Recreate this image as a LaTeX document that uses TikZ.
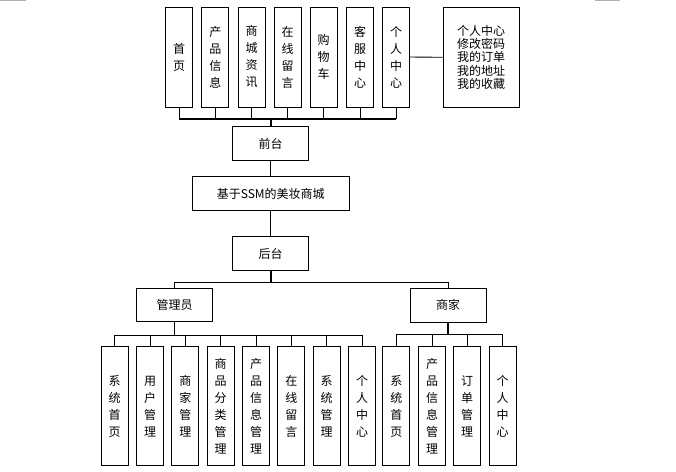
\documentclass[tikz,border=0pt]{standalone}
\usepackage{fontspec}
\newfontfamily\cjk{Noto Sans CJK SC}
\begin{document}
\begin{tikzpicture}[x=1pt,y=-1pt,
  every node/.style={font=\cjk\fontsize{12}{17}\selectfont, inner sep=0pt, align=center},
  vbox/.style={draw, line width=0.8pt, minimum width=27pt, text width=27pt},
  topbox/.style={vbox, minimum height=100pt},
  botbox/.style={vbox, minimum height=119pt},
  hbox/.style={draw, line width=0.8pt, minimum width=76pt, minimum height=34pt},
  conn/.style={line width=0.9pt},
  trunk/.style={line width=1.6pt},
  mark/.style={draw=black!25, line width=0.6pt}]
\useasboundingbox (0,0) rectangle (676,471);
\fill[white] (0,0) rectangle (676,471);
% page corner marks
\draw[black!30, line width=0.7pt] (0,0.6) -- (25,0.6) -- (25,0);
\draw[black!30, line width=0.7pt] (595,0) -- (595,0.6) -- (620,0.6);

% top row
\node[topbox] (t1) at (179,57) {首\\页};
\node[topbox] (t2) at (215.3,57) {产\\品\\信\\息};
\node[topbox] (t3) at (251.5,57) {商\\城\\资\\讯};
\node[topbox] (t4) at (287.5,57) {在\\线\\留\\言};
\node[topbox] (t5) at (323.5,57) {购\\物\\车};
\node[topbox] (t6) at (360,57) {客\\服\\中\\心};
\node[topbox] (t7) at (396,57) {个\\人\\中\\心};
\node[draw, line width=0.8pt, minimum width=76pt, minimum height=100pt,
      font=\cjk\fontsize{12}{13.3}\selectfont] (rb) at (481,57.3)
      {个人中心\\修改密码\\我的订单\\我的地址\\我的收藏};

\node[hbox] (qt) at (270.7,143.7) {前台};
\node[hbox, minimum width=157pt] (ssm) at (270.7,193.5) {基于SSM的美妆商城};
\node[hbox] (ht) at (270.7,253.5) {后台};
\node[hbox, minimum height=33pt] (gly) at (174.5,304.7) {管理员};
\node[hbox] (sj) at (448,305.3) {商家};

% admin children
\node[botbox] (a1) at (114.7,406.2) {系\\统\\首\\页};
\node[botbox] (a2) at (150,406.2) {用\\户\\管\\理};
\node[botbox] (a3) at (185.3,406.2) {商\\家\\管\\理};
\node[botbox] (a4) at (220.7,406.2) {商\\品\\分\\类\\管\\理};
\node[botbox] (a5) at (256,406.2) {产\\品\\信\\息\\管\\理};
\node[botbox] (a6) at (291.3,406.2) {在\\线\\留\\言};
\node[botbox] (a7) at (326.7,406.2) {系\\统\\管\\理};
\node[botbox] (a8) at (362,406.2) {个\\人\\中\\心};

% merchant children
\node[botbox] (m1) at (396.3,406.2) {系\\统\\首\\页};
\node[botbox] (m2) at (432,406.2) {产\\品\\信\\息\\管\\理};
\node[botbox] (m3) at (467,406.2) {订\\单\\管\\理};
\node[botbox] (m4) at (502.5,406.2) {个\\人\\中\\心};

% connectors: top row to 前台
\foreach \i in {1,...,7} {
  \draw[conn] (qt.north) ++(0,-7.7) -| (t\i.south);
}
\draw[trunk] (t1.south |- 0,119) -- (t7.south |- 0,119);
\draw[trunk] (qt.north) -- ++(0,-7.7);
\draw[conn] (t7.east) -- (rb.west);

\draw[conn] (qt.south) -- (ssm.north);
\draw[conn] (ssm.south) -- (ht.north);

\draw[conn] (ht.south) -- ++(0,12) -| (gly.north);
\draw[conn] (ht.south) -- ++(0,12) -| (sj.north);
\draw[trunk] (ht.south) -- ++(0,12);

\foreach \i in {1,...,8} {
  \draw[conn] (gly.south) -- ++(0,13.5) -| (a\i.north);
}
\draw[trunk] (gly.south) -- ++(0,13.5);
\foreach \i in {1,...,4} {
  \draw[conn] (sj.south) -- ++(0,12) -| (m\i.north);
}
\draw[trunk] (sj.south) -- ++(0,12);
\end{tikzpicture}
\end{document}
